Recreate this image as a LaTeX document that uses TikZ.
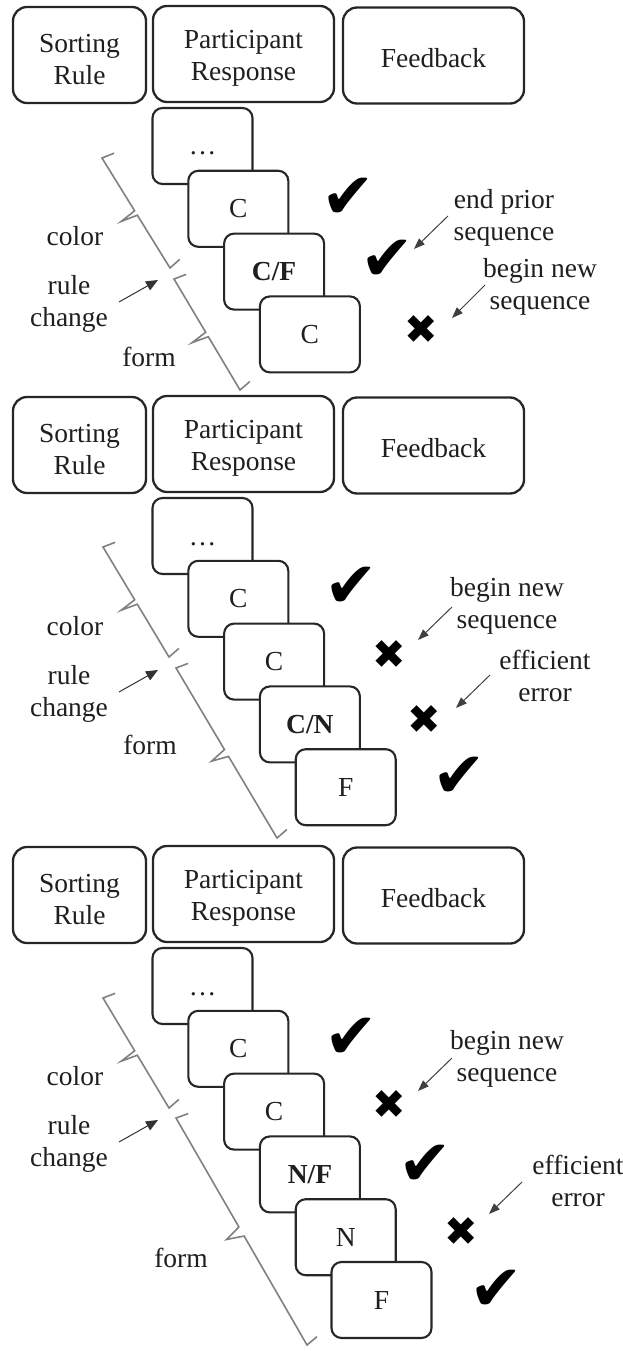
\documentclass[tikz,border=0pt]{standalone}
\usepackage{fontspec}
\setmainfont{Liberation Serif}
\newfontfamily\symfont{DejaVu Sans}
\usetikzlibrary{calc,arrows.meta}

\tikzset{
  txt/.style={font=\fontsize{27.5}{32}\selectfont, text=black!88},
  hdr/.style={txt, draw=black!85, line width=2.3pt, rounded corners=14pt,
    minimum height=96pt, align=center, fill=white, inner sep=0pt},
  card/.style={txt, draw=black!85, line width=2.1pt, rounded corners=10pt,
    minimum width=100pt, minimum height=76pt, fill=white, inner sep=0pt,
    text height=18pt, text depth=0pt},
  lbl/.style={txt, align=center, inner sep=0pt},
  chk/.style={font=\symfont\fontsize{64}{64}\selectfont, inner sep=0pt, text=black},
  crs/.style={font=\symfont\fontsize{40}{40}\selectfont, inner sep=0pt, text=black},
  note/.style={draw=black!75, line width=1pt, -{Triangle[length=11pt,width=8pt]}},
  rcarrow/.style={draw=black!80, line width=1pt, -{Triangle[length=12pt,width=10pt]}},
  brc/.style={draw=black!50, line width=1.6pt},
}

% headers: #1 prefix, #2 vertical offset
\newcommand\headers[2]{%
  \node[hdr, minimum width=133pt] (#1sr) at (79.5, 55+#2) {\rule{0pt}{27pt}Sorting\\Rule};
  \node[hdr, minimum width=181pt] (#1pr) at (243.5, 54+#2) {\rule{0pt}{27pt}Participant\\Response};
  \node[hdr, minimum width=181pt] (#1fb) at (433.5, 55.5+#2) {\rule{0pt}{24pt}Feedback};
}
% card: #1 prefix, #2 index, #3 offset, #4 text
\newcommand\card[4]{%
  \node[card] (#1c#2) at (202.5+35.8*#2, 146+62.8*#2+#3) {#4};
}
% brace: #1 name, #2 top corner, #3 bottom corner
\newcommand\wbrace[3]{%
  \coordinate (#1t) at #2;
  \coordinate (#1b) at #3;
  \coordinate (#1m) at ($(#1t)!0.5!(#1b)$);
  \coordinate (#1m1) at ($(#1t)!0.48!(#1b)$);
  \coordinate (#1m2) at ($(#1t)!0.52!(#1b)$);
  \draw[brc] ($(#1t)!13pt!80:(#1b)$) -- (#1t) -- (#1m1)
     -- ($(#1m)!17pt!-92:(#1b)$) -- (#1m2) -- (#1b) -- ($(#1b)!13pt!-80:(#1t)$);
}
% left side labels: #1 prefix, #2 offset, #3 form position
\newcommand\leftside[3]{%
  \node[lbl] (#1color) at (75, 236+#2) {color};
  \node[lbl] (#1rc) at (69, 303.5+#2) {rule\\change};
  \node[lbl] (#1form) at #3 {form};
  \coordinate (#1rcs) at (119, 302+#2);
  \coordinate (#1rce) at (158, 280+#2);
  \draw[rcarrow] (#1rcs) -- (#1rce);
}

\begin{document}
\begin{tikzpicture}[x=1pt, y=-1pt]
\path[use as bounding box] (0,0) rectangle (622,1351);

% ---------------- Panel 1 ----------------
\headers{a}{0}
\card{a}{0}{0}{\ldots}
\card{a}{1}{0}{C}
\card{a}{2}{0}{\textbf{C/F}}
\card{a}{3}{0}{C}
\node[chk] (am1) at (348,198) {✔};
\node[chk] (am2) at (387,260) {✔};
\node[crs] (am3) at (421,330) {✖};
\leftside{a}{0}{(149,357)}
\wbrace{acb}{(102,158)}{(170,268)}
\wbrace{afb}{(174,279)}{(240,390)}
\node[lbl] (an1) at (504,217.5) {end prior\\sequence};
\coordinate (an1s) at (448,216);
\coordinate (an1e) at (414,249);
\draw[note] (an1s) -- (an1e);
\node[lbl] (an2) at (540,287) {begin new\\sequence};
\coordinate (an2s) at (485,285);
\coordinate (an2e) at (452,318);
\draw[note] (an2s) -- (an2e);

% ---------------- Panel 2 ----------------
\headers{b}{390}
\card{b}{0}{390}{\ldots}
\card{b}{1}{390}{C}
\card{b}{2}{390}{C}
\card{b}{3}{390}{\textbf{C/N}}
\card{b}{4}{390}{F}
\node[chk] (bm1) at (351,587) {✔};
\node[crs] (bm2) at (389,655) {✖};
\node[crs] (bm3) at (424,720) {✖};
\node[chk] (bm4) at (459,777) {✔};
\leftside{b}{390}{(150,745)}
\wbrace{bcb}{(103,547)}{(169,657)}
\wbrace{bfb}{(176,668)}{(277,838)}
\node[lbl] (bn1) at (507,606) {begin new\\sequence};
\coordinate (bn1s) at (452,607);
\coordinate (bn1e) at (418,640);
\draw[note] (bn1s) -- (bn1e);
\node[lbl] (bn2) at (545,676) {efficient\\error};
\coordinate (bn2s) at (490,675);
\coordinate (bn2e) at (456,708);
\draw[note] (bn2s) -- (bn2e);

% ---------------- Panel 3 ----------------
\headers{c}{840}
\card{c}{0}{840}{\ldots}
\card{c}{1}{840}{C}
\card{c}{2}{840}{C}
\card{c}{3}{840}{\textbf{N/F}}
\card{c}{4}{840}{N}
\card{c}{5}{840}{F}
\node[chk] (cm1) at (351,1038) {✔};
\node[crs] (cm2) at (389,1105) {✖};
\node[chk] (cm3) at (425,1165) {✔};
\node[crs] (cm4) at (461,1232) {✖};
\node[chk] (cm5) at (496,1290) {✔};
\leftside{c}{840}{(181,1258)}
\wbrace{ccb}{(103,998)}{(169,1108)}
\wbrace{cfb}{(176,1118)}{(307,1345)}
\node[lbl] (cn1) at (507,1059) {begin new\\sequence};
\coordinate (cn1s) at (452,1058);
\coordinate (cn1e) at (418,1091);
\draw[note] (cn1s) -- (cn1e);
\node[lbl] (cn2) at (578,1181) {efficient\\error};
\coordinate (cn2s) at (522,1182);
\coordinate (cn2e) at (489,1214);
\draw[note] (cn2s) -- (cn2e);
\end{tikzpicture}
\end{document}
